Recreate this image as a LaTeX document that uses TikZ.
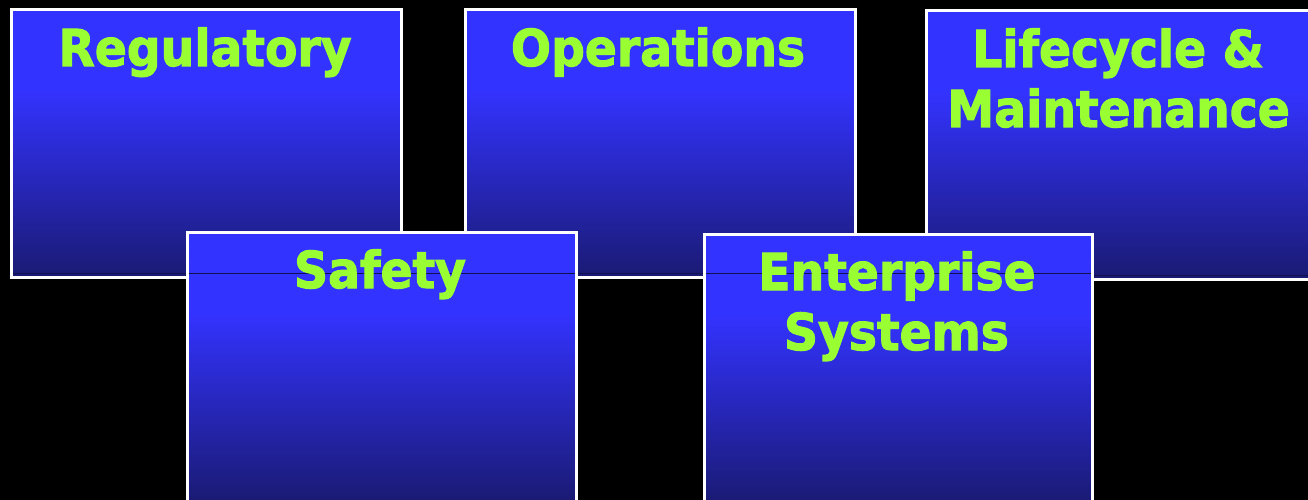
\documentclass[tikz,border=0pt]{standalone}
\usepackage{fontspec}
\setmainfont{DejaVu Sans}
\newfontfamily\titlefont[FakeBold=2.2]{DejaVu Sans Bold}
\definecolor{boxtop}{RGB}{51,51,255}
\definecolor{boxbot}{RGB}{26,26,115}
\definecolor{lbl}{RGB}{153,255,51}
\definecolor{seam}{RGB}{18,18,80}
\pgfdeclareverticalshading{boxshade}{100bp}{color(0bp)=(boxbot); color(25bp)=(boxbot); color(60bp)=(boxtop); color(100bp)=(boxtop)}
\begin{document}
\begin{tikzpicture}[x=1pt,y=1pt,
  panel/.style={draw=white, line width=3pt, shading=boxshade, rectangle, inner sep=0pt, outer sep=0pt, minimum width=390pt, minimum height=268pt},
  title/.style={text=lbl, font=\fontsize{50.8}{60}\selectfont\titlefont, anchor=base, inner sep=0pt, xscale=0.93},
  seamline/.style={draw=seam, line width=0.9pt}]
\fill[black] (0,0) rectangle (1308,-500);
\useasboundingbox (0,0) rectangle (1308,-500);
% upper row
\node[panel, anchor=north west] (reg) at (11.5,-9.5) {};
\node[panel, anchor=north west] (ops) at (465,-9.5) {};
\node[panel, anchor=north west, minimum width=385pt] (life) at (926,-11) {};
\draw[seamline] ([xshift=1.5pt,yshift=4pt]reg.south west) -- ([xshift=-1.5pt,yshift=4pt]reg.south east);
\draw[seamline] ([xshift=1.5pt,yshift=4pt]ops.south west) -- ([xshift=-1.5pt,yshift=4pt]ops.south east);
\draw[seamline] ([xshift=1.5pt,yshift=4pt]life.south west) -- ([xshift=-1.5pt,yshift=4pt]life.south east);
\node[title] (treg) at (205,-66) {Regulatory};
\node[title] (tops) at (658,-66) {Operations};
\node[title] (tlife1) at (1118,-67) {Lifecycle \&};
\node[title] (tlife2) at (1118.5,-127) {Maintenance};
% lower row
\node[panel, anchor=north west, minimum width=389pt, minimum height=270pt] (saf) at (187,-232) {};
\node[panel, anchor=north west, minimum width=388pt, minimum height=270pt] (ent) at (704,-234) {};
\draw[seamline] ([xshift=1.5pt]saf.west |- 0,-273) -- ([xshift=-1.5pt]saf.east |- 0,-273);
\draw[seamline] ([xshift=1.5pt]ent.west |- 0,-273) -- ([xshift=-1.5pt]ent.east |- 0,-273);
\node[title] (tsaf) at (380,-288) {Safety};
\node[title] (tent1) at (897,-290) {Enterprise};
\node[title] (tent2) at (896.5,-350) {Systems};
\end{tikzpicture}
\end{document}
